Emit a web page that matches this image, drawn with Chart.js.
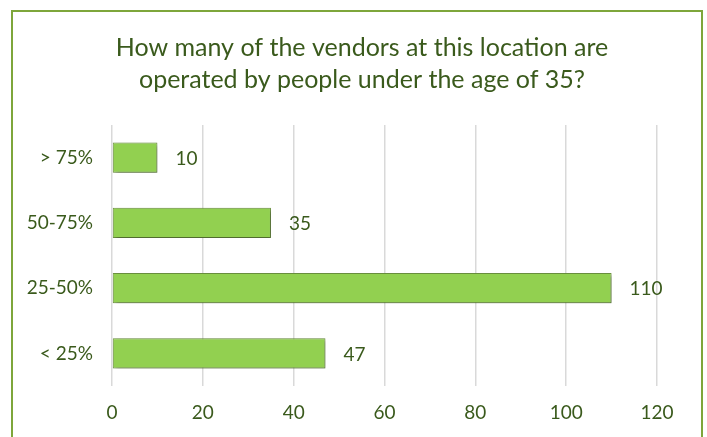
<!DOCTYPE html>
<html>
<head>
<meta charset="utf-8">
<script src="https://cdn.jsdelivr.net/npm/chart.js@4/dist/chart.umd.min.js"></script>
<style>
  html, body { margin: 0; padding: 0; background: #ffffff; overflow: hidden; }
  #frame {
    position: absolute; left: 11px; top: 10px; width: 692px; height: 520px;
    border: 2px solid #7ea63b; box-sizing: border-box;
  }
  #wrap { position: absolute; left: 0; top: 0; width: 707px; height: 437px; }
</style>
</head>
<body>
<div id="frame"></div>
<div id="wrap"><canvas id="chart" width="707" height="437"></canvas></div>
<script>
const categories = ['> 75%', '50-75%', '25-50%', '< 25%'];
const vendorCounts = [10, 35, 110, 47];
const titleLines = ['How many of the vendors at this location are', 'operated by people under the age of 35?'];

const FONT = 'Lato, "Open Sans", sans-serif';
const TEXT_GREEN = '#3a5a1c';

// Two-line heading centred on the framed panel rather than the plot area
const panelTitle = {
  id: 'panelTitle',
  afterDraw(chart) {
    const ctx = chart.ctx;
    ctx.save();
    ctx.font = '25px ' + FONT;
    ctx.fillStyle = TEXT_GREEN;
    ctx.textAlign = 'center';
    ctx.textBaseline = 'middle';
    titleLines.forEach((line, i) => ctx.fillText(line, 362, 48 + i * 32));
    ctx.restore();
  }
};

// Soft drop shadow under the bars
const barShadow = {
  id: 'barShadow',
  beforeDatasetsDraw(chart) {
    const ctx = chart.ctx;
    ctx.save();
    ctx.shadowColor = 'rgba(0,0,0,0.35)';
    ctx.shadowBlur = 4;
    ctx.shadowOffsetX = 2;
    ctx.shadowOffsetY = 2;
  },
  afterDatasetsDraw(chart) {
    chart.ctx.restore();
  }
};

// Value labels to the right of each bar
const valueLabels = {
  id: 'valueLabels',
  afterDatasetsDraw(chart) {
    const ctx = chart.ctx;
    const meta = chart.getDatasetMeta(0);
    ctx.save();
    ctx.font = '19px ' + FONT;
    ctx.fillStyle = TEXT_GREEN;
    ctx.textAlign = 'left';
    ctx.textBaseline = 'middle';
    meta.data.forEach((bar, i) => {
      ctx.fillText(String(vendorCounts[i]), bar.x + 18, bar.y + 1);
    });
    ctx.restore();
  }
};

new Chart(document.getElementById('chart'), {
  type: 'bar',
  data: {
    labels: categories,
    datasets: [{
      data: vendorCounts,
      backgroundColor: '#92d050',
      borderColor: '#6e9440',
      borderWidth: 1,
      borderSkipped: false,
      categoryPercentage: 1,
      barPercentage: 0.46
    }]
  },
  options: {
    indexAxis: 'y',
    responsive: false,
    animation: false,
    devicePixelRatio: 1,
    layout: { padding: { top: 125, left: 14, right: 50, bottom: 0 } },
    plugins: {
      legend: { display: false },
      tooltip: { enabled: false },
      title: { display: false }
    },
    scales: {
      x: {
        min: 0, max: 120,
        ticks: { stepSize: 20, color: TEXT_GREEN, font: { family: FONT, size: 19 }, padding: 15 },
        grid: { color: '#d9d9d9', lineWidth: 1.5, drawTicks: false },
        border: { display: false },
        afterFit(s) { s.height = 51; }
      },
      y: {
        ticks: { color: TEXT_GREEN, font: { family: FONT, size: 19 }, padding: 19 },
        grid: { display: false, drawTicks: false },
        border: { display: false },
        afterFit(s) { s.width = 98; }
      }
    }
  },
  plugins: [barShadow, valueLabels, panelTitle]
});
</script>
</body>
</html>
